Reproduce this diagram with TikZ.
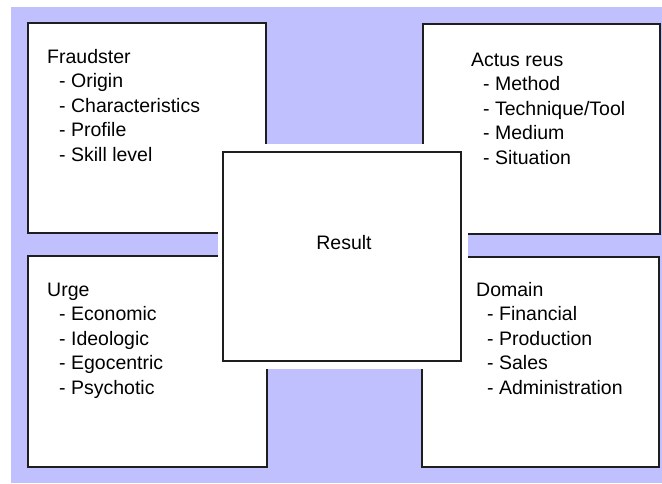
\documentclass[tikz,border=0pt]{standalone}
\usepackage{fontspec}
\setmainfont{Liberation Sans}
\definecolor{lav}{RGB}{192,192,255}
\definecolor{edge}{RGB}{30,30,30}
\begin{document}
\begin{tikzpicture}[x=1pt,y=-1pt,
  panel/.style={draw=edge,line width=1.6pt,fill=white},
  txt/.style={anchor=base west,inner sep=0pt,align=left,font=\fontsize{19.5}{24.6}\selectfont}]
\useasboundingbox (0,0) rectangle (662,483);
\fill[white] (0,0) rectangle (662,483);
\fill[lav] (11,7) rectangle (662,483);
\draw[panel] (28,23) rectangle (266,233) coordinate (tlbox);
\draw[panel] (423,24) rectangle (660,234) coordinate (trbox);
\draw[panel] (28,256) rectangle (267,467) coordinate (blbox);
\draw[panel] (422,257) rectangle (659,467) coordinate (brbox);
\fill[white] (218,144) rectangle (468,369);
\draw[panel] (223,152) rectangle (461,361) coordinate (resbox);
% base west anchor sits on the last line's baseline
\node[txt] (fraud) at (47,161.5) {Fraudster\\\hspace*{12pt}- Origin\\\hspace*{12pt}- Characteristics\\\hspace*{12pt}- Profile\\\hspace*{12pt}- Skill level};
\node[txt] (actus) at (471,164.5) {Actus reus\\\hspace*{12pt}- Method\\\hspace*{12pt}- Technique/Tool\\\hspace*{12pt}- Medium\\\hspace*{12pt}- Situation};
\node[txt] (urge) at (47,394.5) {Urge\\\hspace*{12pt}- Economic\\\hspace*{12pt}- Ideologic\\\hspace*{12pt}- Egocentric\\\hspace*{12pt}- Psychotic};
\node[txt] (domain) at (476,394.5) {Domain\\\hspace*{11pt}- Financial\\\hspace*{11pt}- Production\\\hspace*{11pt}- Sales\\\hspace*{11pt}- Administration};
\node[anchor=base,inner sep=0pt,font=\fontsize{19.5}{24}\selectfont] (result) at (344,249) {Result};
\end{tikzpicture}
\end{document}
